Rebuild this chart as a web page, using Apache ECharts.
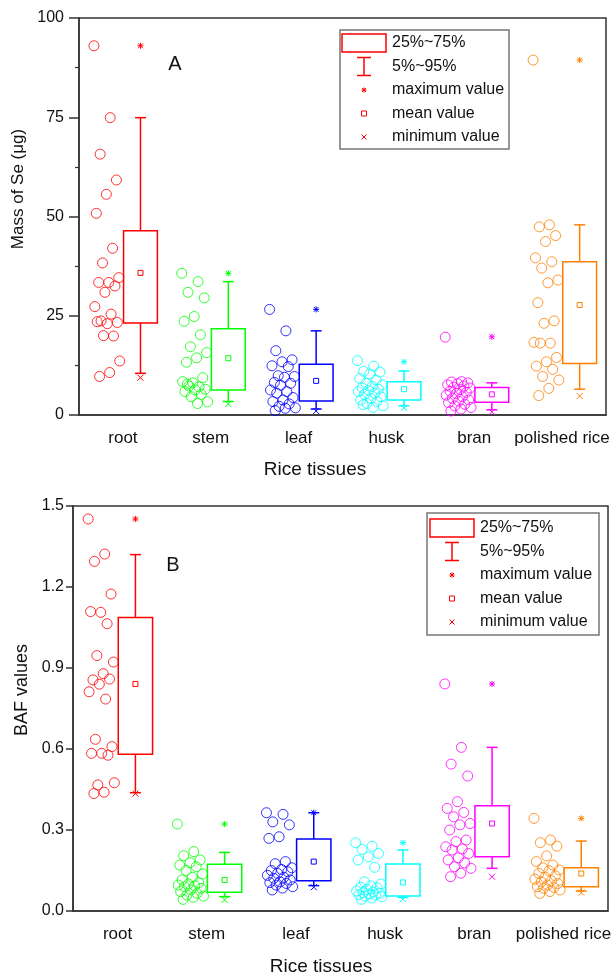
<!DOCTYPE html>
<html>
<head>
<meta charset="utf-8">
<title>Se in rice tissues</title>
<script src="https://cdn.jsdelivr.net/npm/echarts@6/dist/echarts.min.js"></script>
<style>
  html, body { margin: 0; padding: 0; background: #fff; }
  #main { width: 615px; height: 979px; }
</style>
</head>
<body>
<div id="main"></div>
<script>
var tissues = ['root', 'stem', 'leaf', 'husk', 'bran', 'polished rice'];
var tissueColors = ['#ff0000', '#00ff00', '#0000ff', '#00ffff', '#ff00ff', '#ff8000'];

// panel A: mass of Se (ug), one value per sample
var massRoot = [93.0, 74.9, 65.7, 59.2, 55.6, 50.8, 42.0, 38.3, 34.6, 33.4, 33.4, 32.5, 30.9, 27.3, 25.4, 23.7, 23.3, 23.0, 23.5, 19.9, 20.0, 13.6, 10.7, 9.7];
var massStem = [35.7, 33.6, 30.9, 29.5, 24.8, 23.6, 20.2, 17.2, 15.7, 14.4, 13.3, 9.4, 8.1, 8.4, 7.1, 7.3, 6.5, 6.3, 5.9, 5.2, 4.6, 3.3, 2.9, 7.8];
var massLeaf = [26.6, 21.2, 16.2, 13.9, 13.4, 12.4, 12.2, 9.9, 9.7, 9.5, 8.2, 8.0, 7.5, 6.3, 5.9, 5.5, 4.4, 3.8, 3.4, 2.8, 2.2, 1.8, 1.7, 1.1];
var massHusk = [13.7, 12.3, 11.0, 10.8, 10.3, 9.2, 8.8, 8.0, 7.6, 7.2, 6.8, 6.5, 6.2, 5.9, 5.5, 5.2, 4.6, 4.2, 3.8, 3.4, 2.9, 2.3, 1.9, 2.6];
var massBran = [19.6, 8.4, 8.3, 8.1, 7.9, 7.6, 7.3, 7.0, 6.8, 6.4, 6.0, 5.7, 5.4, 5.0, 4.6, 4.2, 3.8, 3.5, 3.1, 2.7, 2.3, 1.9, 1.5, 1.0];
var massPolished = [89.4, 47.9, 47.4, 45.2, 43.7, 39.6, 38.6, 37.0, 34.0, 33.3, 28.3, 23.7, 23.1, 18.3, 18.1, 18.1, 14.5, 13.4, 12.3, 11.5, 9.7, 8.8, 6.7, 4.9];

// box statistics of panel A, per tissue
var massQ1 = [23.2, 6.3, 3.5, 3.8, 3.2, 13.0];
var massQ3 = [46.4, 21.7, 12.8, 8.4, 6.9, 38.6];
var massP5 = [10.5, 3.4, 1.5, 2.3, 1.3, 6.5];
var massP95 = [74.9, 33.6, 21.2, 11.1, 8.1, 47.9];
var massMean = [35.8, 14.3, 8.6, 6.5, 5.2, 27.7];
var massMin = [9.4, 2.8, 1.0, 1.8, 0.8, 4.8];
var massMax = [93.0, 35.7, 26.6, 13.4, 19.7, 89.4];

// panel B: BAF values
var bafRoot = [1.452, 1.322, 1.295, 1.174, 1.106, 1.109, 1.064, 0.946, 0.922, 0.879, 0.856, 0.859, 0.840, 0.812, 0.785, 0.636, 0.609, 0.584, 0.584, 0.577, 0.467, 0.475, 0.440, 0.435];
var bafStem = [0.322, 0.220, 0.205, 0.189, 0.179, 0.170, 0.164, 0.150, 0.137, 0.125, 0.115, 0.105, 0.100, 0.096, 0.093, 0.090, 0.084, 0.078, 0.072, 0.065, 0.059, 0.055, 0.051, 0.043];
var bafLeaf = [0.364, 0.358, 0.330, 0.319, 0.275, 0.269, 0.183, 0.175, 0.160, 0.154, 0.150, 0.145, 0.139, 0.132, 0.125, 0.121, 0.115, 0.108, 0.105, 0.102, 0.096, 0.090, 0.085, 0.078];
var bafHusk = [0.253, 0.240, 0.228, 0.213, 0.200, 0.189, 0.162, 0.108, 0.100, 0.093, 0.088, 0.086, 0.080, 0.074, 0.070, 0.068, 0.066, 0.063, 0.060, 0.059, 0.055, 0.053, 0.048, 0.043];
var bafBran = [0.841, 0.606, 0.544, 0.500, 0.405, 0.380, 0.365, 0.349, 0.324, 0.319, 0.300, 0.263, 0.257, 0.238, 0.230, 0.226, 0.213, 0.197, 0.189, 0.178, 0.164, 0.158, 0.140, 0.127];
var bafPolished = [0.343, 0.263, 0.253, 0.240, 0.204, 0.183, 0.170, 0.160, 0.152, 0.149, 0.139, 0.130, 0.125, 0.118, 0.112, 0.108, 0.102, 0.096, 0.090, 0.087, 0.084, 0.078, 0.072, 0.065];

var bafQ1 = [0.581, 0.069, 0.112, 0.056, 0.201, 0.090];
var bafQ3 = [1.087, 0.173, 0.267, 0.174, 0.390, 0.160];
var bafP5 = [0.438, 0.053, 0.094, 0.050, 0.158, 0.074];
var bafP95 = [1.320, 0.217, 0.364, 0.226, 0.606, 0.259];
var bafMean = [0.841, 0.115, 0.183, 0.106, 0.324, 0.139];
var bafMin = [0.435, 0.041, 0.088, 0.044, 0.127, 0.068];
var bafMax = [1.452, 0.322, 0.364, 0.253, 0.841, 0.343];

var FONT = '"Liberation Sans", Arial, sans-serif';

// points sit left of the category centre, spread a little so they don't stack
function pointData(groups) {
    var out = [];
    groups.forEach(function (vals, i) {
        vals.forEach(function (v, j) {
            var jitter = ((j * 0.618034) % 1 - 0.5) * 0.3;
            out.push({ value: [i - 0.18 + jitter, v], itemStyle: { borderColor: tissueColors[i] } });
        });
    });
    return out;
}

function boxData(q1, q3, p5, p95, mean, min, max) {
    return tissues.map(function (t, i) {
        return [i, q1[i], q3[i], p5[i], p95[i], mean[i], min[i], max[i]];
    });
}

function seg(x1, y1, x2, y2, color, w) {
    return { type: 'line', shape: { x1: x1, y1: y1, x2: x2, y2: y2 }, style: { stroke: color, lineWidth: w || 1.5 } };
}

function star(x, y, r, color) {
    return [seg(x - r, y, x + r, y, color, 1), seg(x, y - r, x, y + r, color, 1),
        seg(x - r * 0.8, y - r * 0.8, x + r * 0.8, y + r * 0.8, color, 1),
        seg(x - r * 0.8, y + r * 0.8, x + r * 0.8, y - r * 0.8, color, 1)];
}

function cross(x, y, r, color) {
    return [seg(x - r, y - r, x + r, y + r, color, 1), seg(x - r, y + r, x + r, y - r, color, 1)];
}

function renderBox(params, api) {
    var i = api.value(0);
    var color = tissueColors[i];
    var x = api.coord([i + 0.2, 0])[0];
    var half = api.size([0.385, 0])[0] / 2;
    var y = function (k) { return api.coord([i, api.value(k)])[1]; };
    var yQ1 = y(1), yQ3 = y(2), yP5 = y(3), yP95 = y(4), yMean = y(5), yMin = y(6), yMax = y(7);
    var cap = 5.5;
    var kids = [
        { type: 'rect', shape: { x: x - half, y: yQ3, width: half * 2, height: yQ1 - yQ3 },
          style: { stroke: color, fill: 'none', lineWidth: 1.5 } },
        seg(x, yQ3, x, yP95, color), seg(x - cap, yP95, x + cap, yP95, color),
        seg(x, yQ1, x, yP5, color), seg(x - cap, yP5, x + cap, yP5, color),
        { type: 'rect', shape: { x: x - 2.5, y: yMean - 2.5, width: 5, height: 5 },
          style: { stroke: color, fill: 'none', lineWidth: 1 } }
    ];
    kids = kids.concat(star(x, yMax, 3, color), cross(x, yMin, 3, color));
    return { type: 'group', children: kids };
}

function legendBlock(left, top, width, height, symX, textX, rowStart) {
    var red = '#ff0000';
    var rows = [0, 23.5, 47, 70.5, 94].map(function (d) { return top + rowStart + d; });
    var labels = ['25%~75%', '5%~95%', 'maximum value', 'mean value', 'minimum value'];
    var els = [{ type: 'rect', shape: { x: left, y: top, width: width, height: height },
                 style: { stroke: '#777', fill: '#fff', lineWidth: 1.5 }, z: 10 }];
    els.push({ type: 'rect', shape: { x: symX - 22, y: rows[0] - 9, width: 44, height: 18 },
               style: { stroke: red, fill: 'none', lineWidth: 1.5 }, z: 11 });
    els.push(seg(symX, rows[1] - 9, symX, rows[1] + 9, red));
    els.push(seg(symX - 7, rows[1] - 9, symX + 7, rows[1] - 9, red));
    els.push(seg(symX - 7, rows[1] + 9, symX + 7, rows[1] + 9, red));
    els = els.concat(star(symX, rows[2], 2.5, red));
    els.push({ type: 'rect', shape: { x: symX - 2.5, y: rows[3] - 2.5, width: 5, height: 5 },
               style: { stroke: red, fill: 'none', lineWidth: 1 } });
    els = els.concat(cross(symX, rows[4], 2.5, red));
    labels.forEach(function (t, k) {
        els.push({ type: 'text', x: textX, y: rows[k], z: 11,
                   style: { text: t, fill: '#111', font: '16px ' + FONT, verticalAlign: 'middle' } });
    });
    els.forEach(function (e) { if (e.z == null) e.z = 11; });
    return els;
}

function label(text, x, y, size, rotate) {
    return { type: 'text', x: x, y: y, rotation: rotate ? Math.PI / 2 : 0, z: 11,
             style: { text: text, fill: '#111', font: size + 'px ' + FONT, align: 'center', verticalAlign: 'middle' } };
}

function catAxis(grid) {
    return {
        type: 'category', gridIndex: grid, data: tissues, boundaryGap: true,
        axisLine: { lineStyle: { color: '#333', width: 1.5 } },
        axisTick: { alignWithLabel: true, length: 6, lineStyle: { color: '#333', width: 1.5 } },
        axisLabel: { color: '#111', fontSize: 17, fontFamily: FONT, margin: 15, interval: 0 }
    };
}

function hiddenAxis(grid) {
    return { type: 'value', gridIndex: grid, min: -0.5, max: 5.5, show: false };
}

var chart = echarts.init(document.getElementById('main'));

var option = {
    animation: false,
    backgroundColor: '#fff',
    grid: [
        { left: 79, top: 18, width: 527, height: 397, show: true, borderColor: '#333', borderWidth: 1.5 },
        { left: 73, top: 506, width: 535, height: 405, show: true, borderColor: '#333', borderWidth: 1.5 }
    ],
    xAxis: [catAxis(0), hiddenAxis(0), catAxis(1), hiddenAxis(1)],
    yAxis: [
        {
            type: 'value', gridIndex: 0, min: 0, max: 100, interval: 25,
            axisLine: { show: true, onZero: false, lineStyle: { color: '#333', width: 1.5 } },
            axisTick: { show: true, length: 10, lineStyle: { color: '#333', width: 1.5 } },
            minorTick: { show: true, splitNumber: 2, length: 4, lineStyle: { color: '#333', width: 1.2 } },
            splitLine: { show: false },
            axisLabel: { color: '#111', fontSize: 16, fontFamily: FONT, margin: 15 }
        },
        {
            type: 'value', gridIndex: 1, min: 0, max: 1.5, interval: 0.3,
            axisLine: { show: true, onZero: false, lineStyle: { color: '#333', width: 1.5 } },
            axisTick: { show: true, length: 7, lineStyle: { color: '#333', width: 1.5 } },
            splitLine: { show: false },
            axisLabel: { color: '#111', fontSize: 16, fontFamily: FONT, margin: 9,
                         formatter: function (v) { return v.toFixed(1); } }
        }
    ],
    series: [
        {
            type: 'scatter', xAxisIndex: 1, yAxisIndex: 0, symbol: 'circle', symbolSize: 10,
            itemStyle: { color: 'rgba(255,255,255,0)', borderWidth: 1 },
            data: pointData([massRoot, massStem, massLeaf, massHusk, massBran, massPolished])
        },
        {
            type: 'custom', xAxisIndex: 1, yAxisIndex: 0, renderItem: renderBox,
            encode: { x: 0, y: [1, 2, 3, 4, 5, 6, 7] },
            data: boxData(massQ1, massQ3, massP5, massP95, massMean, massMin, massMax)
        },
        {
            type: 'scatter', xAxisIndex: 3, yAxisIndex: 1, symbol: 'circle', symbolSize: 10,
            itemStyle: { color: 'rgba(255,255,255,0)', borderWidth: 1 },
            data: pointData([bafRoot, bafStem, bafLeaf, bafHusk, bafBran, bafPolished])
        },
        {
            type: 'custom', xAxisIndex: 3, yAxisIndex: 1, renderItem: renderBox,
            encode: { x: 0, y: [1, 2, 3, 4, 5, 6, 7] },
            data: boxData(bafQ1, bafQ3, bafP5, bafP95, bafMean, bafMin, bafMax)
        }
    ],
    graphic: [].concat(
        legendBlock(340, 30, 169, 119, 364, 392, 13),
        legendBlock(427, 513, 172, 122, 452, 480, 15),
        [
            label('A', 175, 64, 20),
            label('B', 173, 565, 20),
            label('Mass of Se (μg)', 18, 189, 17, true),
            label('BAF values', 22, 690, 18, true),
            label('Rice tissues', 315, 470, 19),
            label('Rice tissues', 321, 967, 19)
        ]
    )
};

chart.setOption(option);
</script>
</body>
</html>
